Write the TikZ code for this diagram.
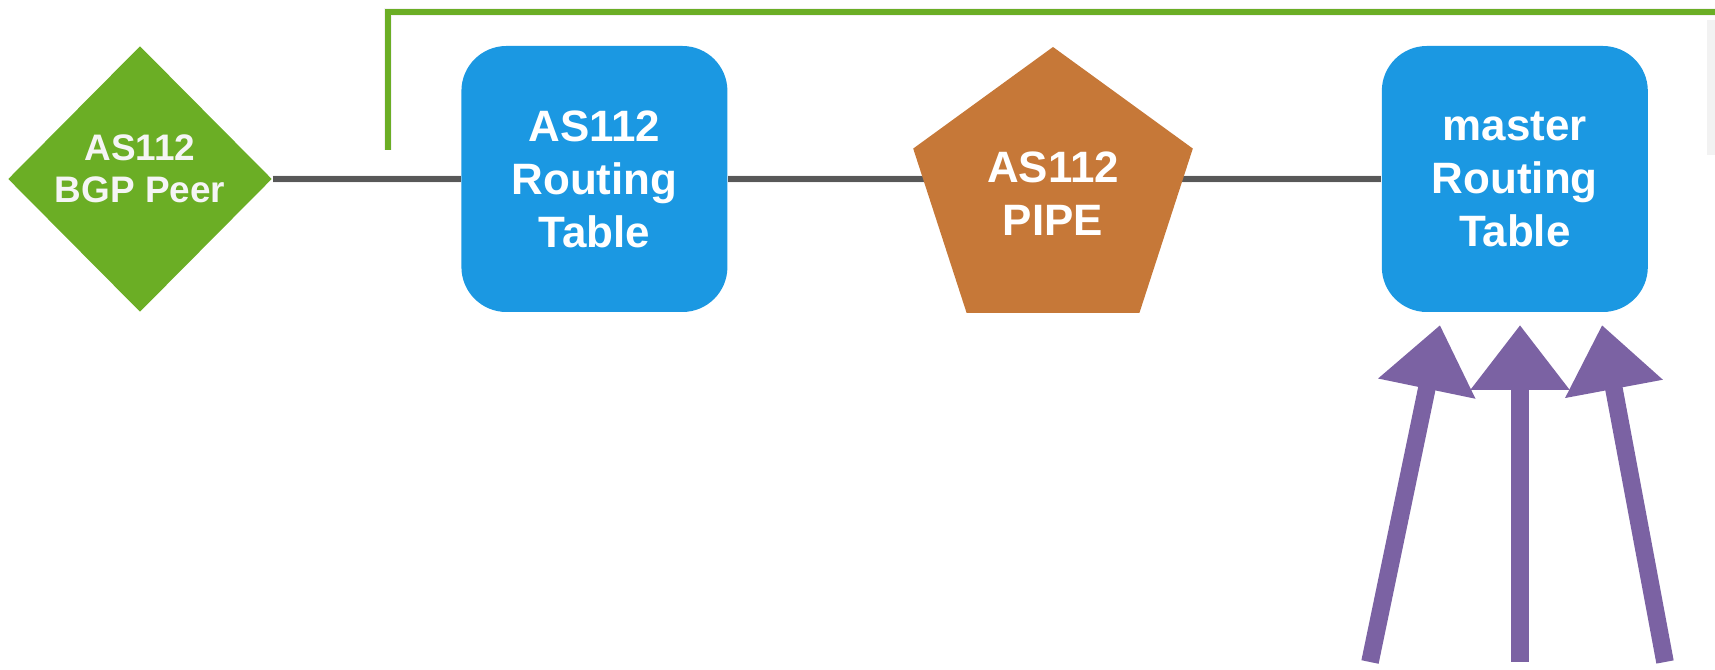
\documentclass[tikz,border=0pt]{standalone}
\usepackage{fontspec}
\setmainfont{Liberation Sans}
\usetikzlibrary{arrows.meta,positioning,shapes.geometric,backgrounds}

\definecolor{peergreen}{HTML}{6BAE25}
\definecolor{tableblue}{HTML}{1B98E2}
\definecolor{pipebrown}{HTML}{C67838}
\definecolor{linkgray}{HTML}{585858}
\definecolor{feedpurple}{HTML}{7B62A3}

\tikzset{
  rtable/.style={fill=tableblue, rounded corners=.45cm, minimum width=2.66cm, minimum height=2.66cm,
    inner sep=0pt, align=center, text=white, font=\bfseries\fontsize{12.5}{15.1}\selectfont},
  peer/.style={diamond, fill=peergreen, minimum width=2.64cm, minimum height=2.66cm, inner sep=0pt},
  peertext/.style={align=center, text=white!92!gray, font=\bfseries\fontsize{10.5}{12}\selectfont},
  pipebox/.style={regular polygon, regular polygon sides=5, fill=pipebrown, minimum size=2.94cm,
    inner sep=0pt, align=center, text=white, font=\bfseries\fontsize{12.5}{15.1}\selectfont},
  link/.style={draw=linkgray, line width=1.5pt},
  ctrl/.style={draw=peergreen, line width=1.5pt},
  lshadow/.style={draw=black!5, line width=2.4pt},
  feed/.style={draw=feedpurple, line width=5pt, -{Triangle[length=6.5mm,width=9.5mm]}}
}

\begin{document}
\begin{tikzpicture}
  \useasboundingbox (0,0) rectangle (17.15,6.70);

  \node (peer) [peer, label={[peertext, yshift=.1cm]center:AS112\\BGP Peer}] at (1.40, 4.91) {};
  \node (as112rt) [rtable, right=1.88cm of peer] {AS112\\Routing\\Table};
  \node (pipe) [pipebox] at (10.53, 4.76) {AS112\\PIPE};
  \node (masterrt) [rtable, right=6.53cm of as112rt] {master\\Routing\\Table};

  \coordinate (ctrlstart) at (3.88, 5.20);
  \coordinate (ctrlend) at (17.15, 6.58);

  % links sit behind the nodes
  \begin{scope}[on background layer]
    \draw[lshadow, yshift=-.06cm] (peer.east) -- (as112rt.west);
    \draw[lshadow, yshift=-.06cm] (as112rt.east) -- (masterrt.west);
    \draw[lshadow, xshift=.06cm, yshift=-.06cm] (ctrlstart) |- (ctrlend);
    \draw[lshadow] (17.11, 6.50) -- (17.11, 5.15);

    \draw[link] (peer.east) -- (as112rt.west);
    \draw[link] (as112rt.east) -- (pipe.center |- as112rt.east);
    \draw[link] (pipe.center |- masterrt.west) -- (masterrt.west);
    \draw[ctrl] (ctrlstart) |- (ctrlend);
  \end{scope}

  % routes feeding the master table
  \coordinate (tail1) at (13.70, 0.08);
  \coordinate (tip1) at (14.40, 3.45);
  \coordinate (tail2) at (15.20, 0.08);
  \coordinate (tip2) at (15.20, 3.45);
  \coordinate (tail3) at (16.65, 0.08);
  \coordinate (tip3) at (16.02, 3.45);
  \foreach \i in {1,2,3}
    \draw[feed] (tail\i) -- (tip\i);
\end{tikzpicture}
\end{document}
